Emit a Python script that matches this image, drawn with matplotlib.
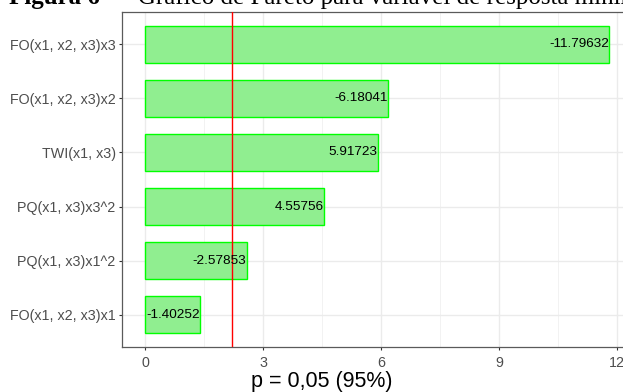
import numpy as np
import matplotlib
matplotlib.use("Agg")
import matplotlib.pyplot as plt
from matplotlib.ticker import MultipleLocator

# Standardized effects (t values) of the model terms
terms = ["FO(x1, x2, x3)x3", "FO(x1, x2, x3)x2", "TWI(x1, x3)",
         "PQ(x1, x3)x3^2", "PQ(x1, x3)x1^2", "FO(x1, x2, x3)x1"]
effects = [-11.79632, -6.18041, 5.91723, 4.55756, -2.57853, -1.40252]
t_crit = 2.201  # p = 0.05 (95%)

W, H = 623, 392
fig = plt.figure(figsize=(W / 100, H / 100), dpi=100)
plt.rcParams['font.family'] = ['Liberation Sans', 'DejaVu Sans']

# panel runs past the right edge of the page crop
ax = fig.add_axes([122 / W, 1 - 347 / H, (632 - 122) / W, (347 - 12) / H])

n = len(terms)
ypos = np.arange(n)[::-1]
vals = np.abs(effects)

ax.barh(ypos, vals, height=0.7, color='#90EE90', edgecolor='#00FF00',
        linewidth=1.0, zorder=2)
ax.axvline(t_crit, color='red', linewidth=1.0, zorder=3)

for y, v, e in zip(ypos, vals, effects):
    ax.text(v, y, f"{e:.5f}", ha='right', va='center', fontsize=9.7,
            color='black', zorder=4)

ax.set_xlim(-0.05 * vals.max(), 1.05 * vals.max())
ax.set_ylim(-0.6, n - 0.4)
ax.set_yticks(ypos)
ax.set_yticklabels(terms)
ax.xaxis.set_major_locator(MultipleLocator(3))
ax.xaxis.set_minor_locator(MultipleLocator(1.5))

ax.grid(which='major', color='#EBEBEB', linewidth=1.0, zorder=0)
ax.grid(which='minor', axis='x', color='#F2F2F2', linewidth=0.7, zorder=0)
ax.set_axisbelow(True)

for side in ax.spines.values():
    side.set_color('#5A5A5A')
    side.set_linewidth(0.9)

ax.tick_params(axis='both', which='major', length=2.5, width=0.8,
               color='#333333', labelcolor='#4D4D4D', labelsize=10.3, pad=2)
ax.tick_params(axis='x', which='major', pad=4)
ax.tick_params(axis='x', which='minor', length=0)

fig.text(321.5 / W, 1 - 387 / H, "p = 0,05 (95%)", ha='center',
         va='baseline', fontsize=15.5, color='black')

# document caption above the chart (mostly cropped away)
fig.text(9 / W, 1 - 4 / H, "Figura 6", ha='left', va='baseline',
         fontsize=18, fontweight='bold', family='Liberation Serif')
fig.text(119 / W, 1 - 4 / H,
         "– Gráfico de Pareto para variável de resposta mínima",
         ha='left', va='baseline', fontsize=18, family='Liberation Serif')

fig.savefig('out.png', dpi=100)
